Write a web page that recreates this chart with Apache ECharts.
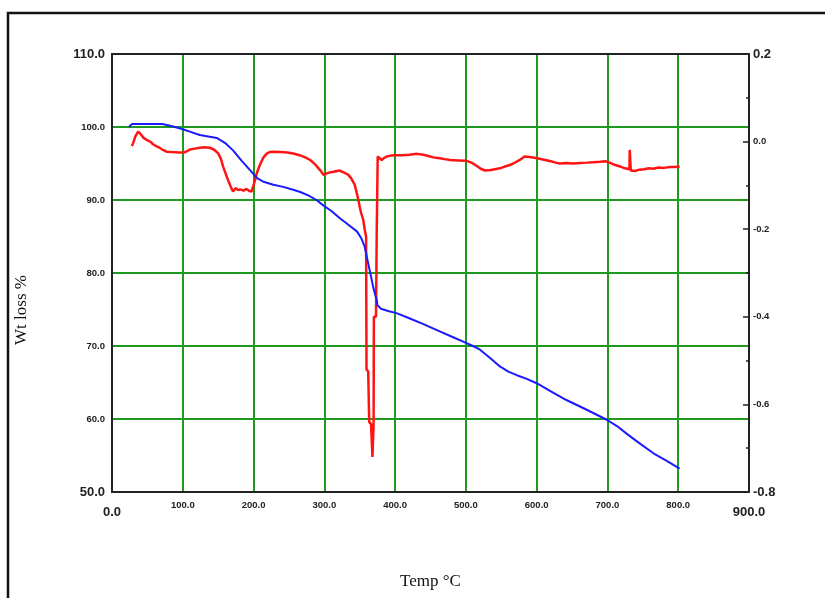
<!DOCTYPE html>
<html>
<head>
<meta charset="utf-8">
<script src="https://cdn.jsdelivr.net/npm/echarts@6.0.0/dist/echarts.min.js"></script>
<style>
html, body { margin: 0; padding: 0; background: #fff; }
#chart { width: 825px; height: 598px; }
</style>
</head>
<body>
<div id="chart"></div>
<script>
// TGA curve (blue, left axis)
const tgaTemp = [24, 28, 50, 71, 85, 100, 112, 124, 136, 148, 160, 171, 183, 195, 205, 214, 228, 242, 256, 266,
	278, 289, 298, 310, 322, 334, 346, 352, 357, 362, 366, 369, 372, 374, 375, 380, 390, 402, 420, 440,
	463, 482, 501, 510, 520, 535, 548, 560, 572, 586, 600, 620, 642, 670, 699, 714, 727, 745, 765, 785, 802];
const tgaWt = [100.0, 100.4, 100.4, 100.4, 100.1, 99.7, 99.3, 98.9, 98.7, 98.5, 97.8, 96.8, 95.4, 94.1, 93.0, 92.5, 92.1, 91.8, 91.4, 91.1,
	90.6, 90.0, 89.3, 88.5, 87.5, 86.6, 85.7, 84.8, 83.6, 81.3, 79.5, 78.1, 77.0, 76.3, 75.6, 75.1, 74.8, 74.5, 73.8, 73.0,
	72.0, 71.2, 70.4, 70.0, 69.5, 68.3, 67.2, 66.5, 66.0, 65.5, 64.9, 63.8, 62.6, 61.3, 59.9, 59.0, 58.0, 56.7, 55.3, 54.2, 53.2];

// DTG curve (red, right axis)
const dtgTemp = [28, 30, 33, 37, 40, 45, 50, 54, 58, 62, 66, 70, 77, 85, 95, 101, 106, 110, 117, 124,
	131, 138, 144, 150, 154, 157, 161, 164, 168, 171, 175, 178, 181, 186, 190, 194, 197, 200, 202, 205,
	209, 214, 219, 223, 228, 238, 248, 256, 265, 273, 280, 287, 294, 299, 304, 309, 313, 318, 322, 327,
	334, 338, 343, 347, 350, 352, 355, 357, 359, 359.6, 362, 363.4, 366, 368, 369, 369.6, 370, 373, 374, 375.4,
	378, 381, 384, 388, 394, 400, 410, 420, 431, 440, 447, 454, 463, 470, 478, 490, 501, 508, 515, 521,
	527, 535, 541, 548, 555, 561, 567, 575, 583, 590, 597, 604, 612, 620, 627, 633, 642, 652, 661, 671,
	680, 690, 697, 703, 710, 718, 725, 731, 731.5, 732.5, 733, 739, 745, 752, 758, 765, 772, 780, 788, 795, 802];
const dtgRate = [-0.010, -0.003, 0.012, 0.023, 0.018, 0.008, 0.003, 0.000, -0.006, -0.010, -0.013, -0.017, -0.023, -0.024, -0.025, -0.025, -0.022, -0.018, -0.016, -0.014,
	-0.013, -0.014, -0.018, -0.027, -0.040, -0.057, -0.075, -0.088, -0.104, -0.114, -0.106, -0.111, -0.109, -0.112, -0.108, -0.113, -0.114, -0.100, -0.088, -0.070,
	-0.053, -0.036, -0.027, -0.024, -0.023, -0.024, -0.025, -0.027, -0.031, -0.036, -0.042, -0.052, -0.065, -0.076, -0.072, -0.070, -0.069, -0.067, -0.066, -0.070,
	-0.076, -0.084, -0.099, -0.125, -0.149, -0.163, -0.179, -0.200, -0.217, -0.520, -0.525, -0.640, -0.645, -0.720, -0.720, -0.645, -0.400, -0.400, -0.210, -0.034,
	-0.038, -0.042, -0.038, -0.034, -0.032, -0.031, -0.031, -0.030, -0.028, -0.030, -0.033, -0.036, -0.038, -0.040, -0.042, -0.043, -0.044, -0.048, -0.055, -0.062,
	-0.066, -0.065, -0.063, -0.061, -0.057, -0.054, -0.050, -0.043, -0.034, -0.035, -0.037, -0.039, -0.042, -0.045, -0.048, -0.050, -0.049, -0.050, -0.049, -0.048,
	-0.047, -0.046, -0.045, -0.048, -0.053, -0.057, -0.061, -0.063, -0.019, -0.019, -0.066, -0.067, -0.064, -0.063, -0.061, -0.062, -0.059, -0.060, -0.058, -0.058, -0.057];

const chart = echarts.init(document.getElementById("chart"));

const smallLabel = {
	fontFamily: "Liberation Sans",
	fontSize: 9.5,
	fontWeight: "bold",
	color: "#222"
};
const bigRich = {
	big: { fontFamily: "Liberation Sans", fontSize: 13, color: "#222" },
	bigLow: { fontFamily: "Liberation Sans", fontSize: 13, color: "#222", padding: [6, 0, 0, 0] }
};
const green = "#1f9a1f";

const option = {
	animation: false,
	grid: { left: 112, top: 54, width: 637, height: 438, containLabel: false },
	xAxis: {
		type: "value",
		min: 0,
		max: 900,
		interval: 100,
		name: "Temp °C",
		nameLocation: "middle",
		nameGap: 81,
		nameTextStyle: { fontFamily: "Liberation Serif", fontSize: 17, color: "#111" },
		axisLine: { show: false },
		axisTick: { show: false },
		splitLine: { lineStyle: { color: green, width: 2 } },
		axisLabel: Object.assign({}, smallLabel, {
			margin: 8,
			rich: bigRich,
			formatter: v => (v === 0 || v === 900) ? `{bigLow|${v.toFixed(1)}}` : v.toFixed(1)
		})
	},
	yAxis: [{
		type: "value",
		min: 50,
		max: 110,
		interval: 10,
		axisLine: { show: false },
		axisTick: { show: false },
		splitLine: { lineStyle: { color: green, width: 2 } },
		axisLabel: Object.assign({}, smallLabel, {
			margin: 7,
			rich: bigRich,
			formatter: v => (v === 50 || v === 110) ? `{big|${v.toFixed(1)}}` : v.toFixed(1)
		})
	}, {
		type: "value",
		position: "right",
		min: -0.8,
		max: 0.2,
		interval: 0.2,
		axisLine: { show: true, lineStyle: { color: "#222", width: 2 } },
		axisTick: { show: true, inside: true, length: 6, lineStyle: { color: "#222", width: 1.5 } },
		minorTick: { show: true, splitNumber: 2, length: 3, lineStyle: { color: "#222", width: 1.5 } },
		splitLine: { show: false },
		axisLabel: Object.assign({}, smallLabel, {
			margin: 4,
			rich: bigRich,
			formatter: v => {
				const r = Math.round(v * 10) / 10;
				const s = r.toFixed(1);
				return (r === 0.2 || r === -0.8) ? `{big|${s}}` : s;
			}
		})
	}],
	graphic: [{
		type: "rect",
		shape: { x: 8, y: 13, width: 840, height: 620 },
		style: { fill: "none", stroke: "#111", lineWidth: 2.5 },
		z: 100
	}, {
		type: "rect",
		shape: { x: 112, y: 54, width: 637, height: 438 },
		style: { fill: "none", stroke: "#222", lineWidth: 2 },
		z: 100
	}, {
		type: "text",
		x: 22,
		y: 310,
		rotation: Math.PI / 2,
		style: {
			text: "Wt loss %",
			fontFamily: "Liberation Serif",
			fontSize: 17,
			fill: "#111",
			align: "center",
			verticalAlign: "middle"
		},
		z: 100
	}],
	series: [{
		name: "DTG",
		type: "line",
		yAxisIndex: 1,
		showSymbol: false,
		lineStyle: { color: "#ff1414", width: 2.5 },
		data: dtgTemp.map((t, i) => [t, dtgRate[i]]),
		z: 3
	}, {
		name: "TGA",
		type: "line",
		yAxisIndex: 0,
		showSymbol: false,
		lineStyle: { color: "#1a1aff", width: 2 },
		data: tgaTemp.map((t, i) => [t, tgaWt[i]]),
		z: 4
	}]
};

chart.setOption(option);
window.onresize = chart.resize;
</script>
</body>
</html>
